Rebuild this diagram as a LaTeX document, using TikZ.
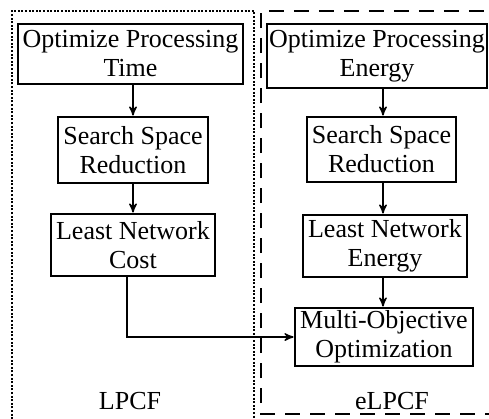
\documentclass[tikz,border=0pt]{standalone}
\usepackage{fontspec}
\setmainfont{Liberation Serif}
\usetikzlibrary{arrows}

\begin{document}
\begin{tikzpicture}[x=0.5pt,y=-0.5pt,
 blk/.style={draw, line width=1.4pt, align=center, inner sep=0pt,
   font=\fontsize{13}{14.5}\selectfont},
 lnk/.style={black, line width=0.7pt, ->, >=stealth'}]
\useasboundingbox (0,0) rectangle (489,419);
% the two frames
\draw[dash pattern=on 1pt off 0.8pt, line width=0.7pt] (12,430)--(12,11)--(254,11)--(254,430);
\draw[dash pattern=on 7.5pt off 5pt, line width=0.8pt] (500,414)--(261,414)--(261,11)--(500,11);
% LPCF side
\node[blk, minimum width=112.5pt, minimum height=30pt] (optt) at (130.5,54) {Optimize Processing\\Time};
\node[blk, minimum width=75pt, minimum height=33pt] (ssrl) at (133,150) {Search Space\\Reduction};
\node[blk, minimum width=82pt, minimum height=31pt] (lnc) at (133,245) {Least Network\\Cost};
% eLPCF side
\node[blk, minimum width=110pt, minimum height=32pt] (opte) at (377,56) {Optimize Processing\\Energy};
\node[blk, minimum width=74.5pt, minimum height=32.5pt] (ssrr) at (381.5,149.5) {Search Space\\Reduction};
\node[blk, minimum width=82pt, minimum height=31pt] (lne) at (385,246) {Least Network\\Energy};
\node[blk, minimum width=89pt, minimum height=29pt] (moo) at (384,337) {Multi-Objective\\Optimization};
% labels
\node[font=\fontsize{13}{14.5}\selectfont] (lpcf) at (130,401) {LPCF};
\node[font=\fontsize{13}{14.5}\selectfont] (elpcf) at (392,401) {eLPCF};
% arrows
\draw[lnk] (optt.south -| ssrl.north) -- (ssrl.north);
\draw[lnk] (ssrl.south) -- (lnc.north);
\draw[lnk] ([xshift=-3pt]lnc.south) |- (moo.west);
\draw[lnk] (opte.south -| 383,0) -- (ssrr.north -| 383,0);
\draw[lnk] (ssrr.south -| 383,0) -- (lne.north -| 383,0);
\draw[lnk] (lne.south -| 383,0) -- (moo.north -| 383,0);
\end{tikzpicture}
\end{document}
